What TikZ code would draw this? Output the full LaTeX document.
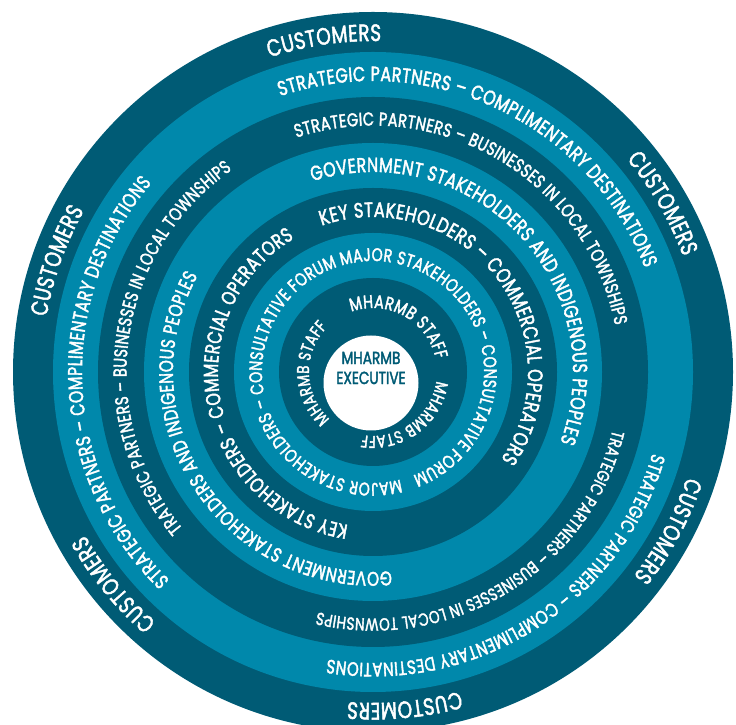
\documentclass[tikz,border=0pt]{standalone}
\usepackage{fontspec}
\setmainfont{Poppins}
\newfontfamily\ringfont{Poppins}[FakeBold=2, FakeStretch=0.78, Kerning=Off]
\usetikzlibrary{decorations.text}

\definecolor{ringdark}{HTML}{005B75}
\definecolor{ringlight}{HTML}{0088AB}

% Natural width of a label at 10pt, kept under a short key
\newsavebox\ringbox
\newcommand\keepwidth[2]{%
  \sbox\ringbox{\ringfont\fontsize{10}{10}\selectfont #2}%
  \expandafter\xdef\csname ringw#1\endcsname{\the\wd\ringbox}}

% Text set on a clockwise arc round (C); the font size is chosen so that the
% text fills the given share of the arc, the rest going to letter spacing.
% #1 baseline radius, #2 start angle, #3 end angle, #4 share, #5 key, #6 text
\newcommand\ringlabel[6]{%
  \pgfmathsetmacro\ringsize{10*#4*(#1*pi/180*abs(#2-#3))/\csname ringw#5\endcsname}%
  \path[decorate, decoration={text along path, text align={fit to path},
      text={|\ringfont\fontsize{\ringsize}{\ringsize}\selectfont\color{white}|#6}}]
    (C) ++(#2:#1) arc[start angle=#2, end angle=#3, radius=#1];}

\begin{document}
\keepwidth{cust}{CUSTOMERS}%
\keepwidth{dest}{STRATEGIC PARTNERS – COMPLIMENTARY DESTINATIONS}%
\keepwidth{townA}{STRATEGIC PARTNERS – BUSINESSES IN LOCAL TOWNSHIPS}%
\keepwidth{townB}{TRATEGIC PARTNERS – BUSINESSES IN LOCAL TOWNSHIPS}%
\keepwidth{gov}{GOVERNMENT STAKEHOLDERS AND INDIGENOUS PEOPLES}%
\keepwidth{key}{KEY STAKEHOLDERS – COMMERCIAL OPERATORS}%
\keepwidth{forum}{MAJOR STAKEHOLDERS – CONSULTATIVE FORUM MAJOR STAKEHOLDERS – CONSULTATIVE FORUM}%
\keepwidth{staff}{MHARMB STAFF}%
\begin{tikzpicture}[x=1pt,y=1pt]
\useasboundingbox (0,0) rectangle (736,725);
\clip (0,0) rectangle (736,725);
\coordinate (C) at (373,353);

% concentric bands, outermost first
\fill[ringdark]  (C) circle[radius=360];
\fill[ringlight] (C) circle[radius=320];
\fill[ringdark]  (C) circle[radius=275];
\fill[ringlight] (C) circle[radius=229];
\fill[ringdark]  (C) circle[radius=184];
\fill[ringlight] (C) circle[radius=139];
\fill[ringdark]  (C) circle[radius=94];
\fill[white] (371,342) circle[radius=47.5];

\node[text=ringdark, align=center, font=\ringfont\fontsize{17.5}{20}\selectfont, inner sep=0pt]
  (exec) at (371,357) {MHARMB\\EXECUTIVE};

% outer band
\ringlabel{331}{108.2}{88.6}{0.97}{cust}{CUSTOMERS}
\ringlabel{331}{40}{20.4}{0.97}{cust}{CUSTOMERS}
\ringlabel{331}{-18.5}{-38.1}{0.97}{cust}{CUSTOMERS}
\ringlabel{331}{-74.8}{-94.4}{0.97}{cust}{CUSTOMERS}
\ringlabel{331}{-130.9}{-150.5}{0.97}{cust}{CUSTOMERS}
\ringlabel{331}{170.4}{150.8}{0.97}{cust}{CUSTOMERS}

% second band
\ringlabel{291}{108.6}{21}{0.96}{dest}{STRATEGIC PARTNERS – COMPLIMENTARY DESTINATIONS}
\ringlabel{291}{225.7}{139.6}{0.96}{dest}{STRATEGIC PARTNERS – COMPLIMENTARY DESTINATIONS}
\ringlabel{291}{-16.2}{-98.9}{0.96}{dest}{STRATEGIC PARTNERS – COMPLIMENTARY DESTINATIONS}

% third band
\ringlabel{246.5}{108.1}{10.9}{0.96}{townA}{STRATEGIC PARTNERS – BUSINESSES IN LOCAL TOWNSHIPS}
\ringlabel{246.5}{219.5}{124.9}{0.96}{townB}{TRATEGIC PARTNERS – BUSINESSES IN LOCAL TOWNSHIPS}
\ringlabel{246.5}{-13.6}{-102.9}{0.96}{townB}{TRATEGIC PARTNERS – BUSINESSES IN LOCAL TOWNSHIPS}

% fourth band
\ringlabel{200}{107.6}{-20.6}{0.96}{gov}{GOVERNMENT STAKEHOLDERS AND INDIGENOUS PEOPLES}
\ringlabel{200}{275.3}{151.2}{0.96}{gov}{GOVERNMENT STAKEHOLDERS AND INDIGENOUS PEOPLES}

% fifth band
\ringlabel{155}{109.3}{-34.3}{0.96}{key}{KEY STAKEHOLDERS – COMMERCIAL OPERATORS}
\ringlabel{155}{260.8}{120.6}{0.96}{key}{KEY STAKEHOLDERS – COMMERCIAL OPERATORS}

% sixth band, one loop
\ringlabel{111}{-75.7}{-429}{0.96}{forum}{MAJOR STAKEHOLDERS – CONSULTATIVE FORUM MAJOR STAKEHOLDERS – CONSULTATIVE FORUM}

% inner band
\ringlabel{64}{109.8}{11.5}{0.96}{staff}{MHARMB STAFF}
\ringlabel{64}{-8}{-100}{0.96}{staff}{MHARMB STAFF}
\ringlabel{64}{227.6}{135.6}{0.96}{staff}{MHARMB STAFF}
\end{tikzpicture}
\end{document}
